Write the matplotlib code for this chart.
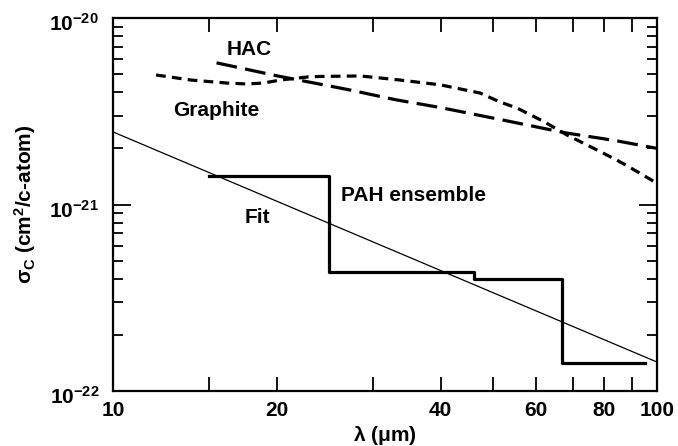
import matplotlib
matplotlib.use("Agg")
import matplotlib.pyplot as plt
import matplotlib.transforms as mtransforms
from matplotlib.ticker import FixedLocator, NullFormatter, FixedFormatter

plt.rcParams.update({
    "font.family": ["Liberation Sans", "DejaVu Sans"],
    "font.weight": "bold",
    "mathtext.fontset": "custom",
    "mathtext.rm": "Liberation Sans:bold",
    "mathtext.it": "Liberation Sans:bold",
    "mathtext.bf": "Liberation Sans:bold",
    "lines.scale_dashes": False,
})

# PAH ensemble (step edges in um, cross sections per bin)
pah_edges = [15, 25, 46, 67, 95]
pah_sigma = [1.42e-21, 4.35e-22, 4.0e-22, 1.41e-22]

# power-law fit end points
fit_lam = [10, 100]
fit_sigma = [2.45e-21, 1.43e-22]

# HAC (long dashes)
hac_lam = [15.5, 20, 25, 27.3, 33, 40, 52, 68, 84, 100]
hac_sigma = [5.75e-21, 4.9e-21, 4.32e-21, 4.11e-21, 3.65e-21, 3.31e-21, 2.84e-21,
             2.42e-21, 2.2e-21, 2.0e-21]

# Graphite (short dashes)
gra_lam = [12, 13.9, 16.2, 17.6, 18.9, 20.3, 22.8, 24, 28.5, 33.7, 40, 47.3, 51.4,
           55.3, 62, 68.3, 76, 84.4, 92, 100]
gra_sigma = [4.95e-21, 4.65e-21, 4.48e-21, 4.43e-21, 4.48e-21, 4.65e-21, 4.83e-21,
             4.86e-21, 4.89e-21, 4.65e-21, 4.38e-21, 3.96e-21, 3.55e-21, 3.29e-21,
             2.78e-21, 2.36e-21, 2.02e-21, 1.73e-21, 1.5e-21, 1.3e-21]

xticks_major = [10, 20, 40, 60, 80, 100]
xticks_minor = [15, 30, 50, 70, 90]
yticks_major = [1e-22, 1e-21, 1e-20]
ytick_labels = [r"$10^{-22}$", r"$10^{-21}$", r"$10^{-20}$"]

FS = 15

fig = plt.figure(figsize=(6.78, 4.46), dpi=100)
ax = fig.add_axes([0.1667, 0.1233, 0.8023, 0.8363])

ax.plot(pah_edges, pah_sigma + [pah_sigma[-1]], drawstyle="steps-post",
        color="black", lw=2.3)
ax.plot(fit_lam, fit_sigma, color="black", lw=0.9)
ax.plot(hac_lam, hac_sigma, color="black", lw=2.3, dashes=(15, 6))
ax.plot(gra_lam, gra_sigma, color="black", lw=2.3, dashes=(7, 4.5))

ax.set_xscale("log")
ax.set_yscale("log")
ax.set_xlim(10, 100)
ax.set_ylim(1e-22, 1e-20)

ax.xaxis.set_major_locator(FixedLocator(xticks_major))
ax.xaxis.set_major_formatter(FixedFormatter([str(v) for v in xticks_major]))
ax.xaxis.set_minor_locator(FixedLocator(xticks_minor))
ax.xaxis.set_minor_formatter(NullFormatter())
ax.yaxis.set_major_locator(FixedLocator(yticks_major))
ax.yaxis.set_major_formatter(FixedFormatter(ytick_labels))

ax.tick_params(axis="x", which="both", direction="in", top=True, length=10,
               width=1.3, labelsize=FS, pad=7)
ax.tick_params(axis="y", which="major", direction="in", right=True, length=13,
               width=1.3, labelsize=FS, pad=10)
ax.tick_params(axis="y", which="minor", direction="in", right=True, length=7,
               width=1.3)
for spine in ax.spines.values():
    spine.set_linewidth(1.6)

# nudge the y tick labels down a little, as in the original
shift = mtransforms.ScaledTranslation(0, -3 / 72, fig.dpi_scale_trans)
for lab in ax.get_yticklabels():
    lab.set_transform(lab.get_transform() + shift)

ax.set_xlabel(r"$\lambda$ ($\mu$m)", fontsize=FS, fontweight="bold", labelpad=3)
ax.set_ylabel(r"$\sigma_\mathregular{C}$ (cm$^\mathregular{2}$/c-atom)",
              fontsize=FS, fontweight="bold", labelpad=8)

ax.text(17.8, 6.8e-21, "HAC", fontsize=FS, fontweight="bold", ha="center", va="center")
ax.text(15.5, 3.2e-21, "Graphite", fontsize=FS, fontweight="bold", ha="center", va="center")
ax.text(18.4, 8.5e-22, "Fit", fontsize=FS, fontweight="bold", ha="center", va="center")
ax.text(35.7, 1.12e-21, "PAH ensemble", fontsize=FS, fontweight="bold", ha="center", va="center")

fig.savefig("out.png", dpi=100)
